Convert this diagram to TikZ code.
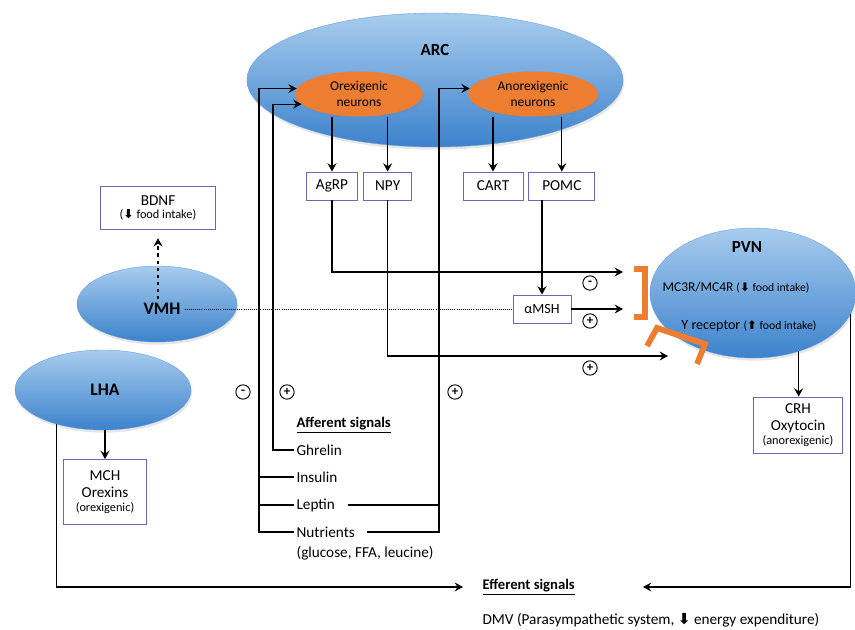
\documentclass[tikz,border=0pt]{standalone}
\usepackage{fontspec}
\setmainfont{Carlito}
\newfontfamily\arrowfont{DejaVu Sans}
\usepackage{tikz}
\usetikzlibrary{arrows.meta,positioning,calc,shapes.geometric,shadows}
\definecolor{lightblue}{RGB}{168,204,238}
\definecolor{darkblue}{RGB}{60,130,204}
\definecolor{orangefill}{RGB}{237,125,49}
\definecolor{boxline}{RGB}{112,98,190}
\newcommand{\arrdn}{{\arrowfont\bfseries ⬇}}
\newcommand{\arrup}{{\arrowfont\bfseries ⬆}}

\begin{document}
\begin{tikzpicture}[x=0.3mm,y=-0.3mm,
nucleus/.style={ellipse,inner sep=0pt,top color=lightblue,bottom color=darkblue,draw=darkblue!80,line width=0.3pt,drop shadow={opacity=0.2,shadow xshift=0.3mm,shadow yshift=-0.8mm}},
neuron/.style={ellipse,inner sep=0pt,fill=orangefill,align=center,font=\fontsize{11.5}{13}\selectfont,drop shadow={opacity=0.2,shadow xshift=0.3mm,shadow yshift=-0.6mm}},
peptide/.style={draw=boxline,line width=0.7pt,fill=white,align=center,inner sep=1pt,minimum height=8.4mm,font=\fontsize{13}{15}\selectfont},
title/.style={font=\fontsize{14.5}{16}\selectfont\bfseries},
signal/.style={anchor=west,inner sep=2pt,font=\fontsize{13}{15}\selectfont},
sign/.style={circle,draw,line width=0.8pt,inner sep=0pt,minimum size=4.3mm,font=\fontsize{11}{11}\selectfont\bfseries},
arr/.style={-{Stealth[length=2.5mm,width=2.7mm,inset=0.9mm]},line width=1pt},
dotline/.style={densely dotted,line width=0.8pt},
bracket/.style={orangefill,line width=5pt}
]
\useasboundingbox (0,0) rectangle (855,630);

% nuclei
\node[nucleus,minimum width=112.8mm,minimum height=40.2mm] (arc) at (435,80) {};
\node[title] (arclbl) at (435,50) {ARC};
\node[nucleus,minimum width=48mm,minimum height=22.8mm] (vmh) at (157,304) {};
\node[title,font=\fontsize{15}{16}\selectfont\bfseries] (vmhlbl) at (162,309) {VMH};
\node[nucleus,minimum width=52.8mm,minimum height=24mm] (lha) at (103,390) {};
\node[title,font=\fontsize{15}{16}\selectfont\bfseries] (lhalbl) at (105,390) {LHA};
\node[nucleus,minimum width=61.8mm,minimum height=39mm] (pvn) at (753,293) {};
\node[title] (pvnlbl) at (747,247) {PVN};
\node[font=\fontsize{11.5}{13}\selectfont] (mcr) at (736,288) {MC3R/MC4R {\fontsize{10}{12}\selectfont(\arrdn\ food intake)}};
\node[font=\fontsize{12}{13}\selectfont] (yrec) at (749,326) {Y receptor {\fontsize{10}{12}\selectfont(\arrup\ food intake)}};

% neurons
\node[neuron,minimum width=38.4mm,minimum height=13.5mm] (orex) at (359,94) {Orexigenic\\neurons};
\node[neuron,minimum width=39mm,minimum height=13.5mm] (anorex) at (533,94) {Anorexigenic\\neurons};

% peptides
\node[peptide,minimum width=15.3mm] (agrp) at (332,186) {AgRP};
\node[peptide,minimum width=14.4mm,right=1.6mm of agrp] (npy) {NPY};
\node[peptide,minimum width=18mm] (cart) at (493,186) {CART};
\node[peptide,minimum width=19.8mm,right=1.5mm of cart] (pomc) {POMC};
\node[peptide,minimum width=17.4mm,font=\fontsize{12}{14}\selectfont] (amsh) at (542,309) {αMSH};
\node[peptide,minimum width=34.5mm,minimum height=12.9mm] (bdnf) at (158,208) {BDNF\\[-4pt]{\fontsize{10.5}{12}\selectfont(\arrdn\ food intake)}};
\node[peptide,minimum width=24.9mm,minimum height=19.5mm] (mch) at (105,492) {MCH\\[-1pt]Orexins\\[-3pt]{\fontsize{10.5}{12}\selectfont(orexigenic)}};
\node[peptide,minimum width=26.7mm,minimum height=16.8mm] (crh) at (798,425) {CRH\\[-1pt]Oxytocin\\[-3pt]{\fontsize{10.5}{12}\selectfont(anorexigenic)}};

% afferent signals
\node[signal,font=\fontsize{12.5}{15}\selectfont\bfseries] (aff) at (294,425) {\underline{Afferent signals}};
\node[signal] (ghr) at (294,450) {Ghrelin};
\node[signal] (ins) at (294,477) {Insulin};
\node[signal] (lep) at (294,505) {Leptin};
\node[signal] (nutr) at (294,532) {Nutrients};
\node[signal] (nutrsub) at (294,553) {(glucose, FFA, leucine)};

% efferent signals
\node[signal,font=\fontsize{12.5}{15}\selectfont\bfseries] (eff) at (480,587) {\underline{Efferent signals}};
\node[signal] (dmv) at (480,620) {DMV (Parasympathetic system, \arrdn\ energy expenditure)};

% signs
\node[sign] (s1) at (243,392) {-};
\node[sign] (s2) at (287,392) {+};
\node[sign] (s3) at (455,392) {+};
\node[sign] (s4) at (590,283) {-};
\node[sign] (s5) at (590,321) {+};
\node[sign] (s6) at (590,368) {+};

\coordinate (busL) at (259,0);
\coordinate (busG) at (273,0);
\coordinate (busR) at (439,0);
\coordinate (mcin) at (623,272);
\coordinate (yin) at (668,356);
\coordinate (effL) at (463,587);
\coordinate (effR) at (643,587);

% receptor brackets
\draw[bracket] (634,269) -- (645,269) -- (645,317) -- (634,317);
\draw[bracket,line join=miter] (647,346) -- (657,328) -- (705,344) -- (697,364);

% connectors
\draw[arr] (agrp |- orex.south) -- (agrp.north);
\draw[arr] (npy |- orex.south) -- (npy.north);
\draw[arr] (cart |- anorex.south) -- (cart.north);
\draw[arr] (pomc |- anorex.south) -- (pomc.north);
\draw[arr] (agrp.south) |- (mcin);
\draw[arr] (npy.south) |- (yin);
\draw[arr] (amsh |- pomc.south) -- (amsh.north);
\draw[arr] (amsh.east) -- (amsh.east -| mcin);
\draw[dotline] (vmhlbl.east) -- (amsh.west);
\draw[arr,dashed] (bdnf |- vmhlbl.north) -- ([yshift=-2.5mm]bdnf.south);
\draw[arr] (mch |- lha.south) -- (mch.north);
\draw[arr] (pvn.308) -- (pvn.308 |- crh.north);

\draw[arr] (ghr.west) -- (ghr.west -| busG) |- (orex.190);
\draw[arr] (nutr.west) -- (nutr.west -| busL) |- (orex.175);
\draw[line width=1pt] (ins.west) -- (ins.west -| busL);
\draw[line width=1pt] (lep.west) -- (lep.west -| busL);
\draw[arr] ([xshift=3mm]nutr.east) -- (nutr.east -| busR) |- (anorex.175);
\draw[line width=1pt] ([xshift=3mm]lep.east) -- (lep.east -| busR);

\draw[arr] (lha.216) |- (effL);
\draw[arr] (pvn.348) |- (effR);
\end{tikzpicture}
\end{document}
